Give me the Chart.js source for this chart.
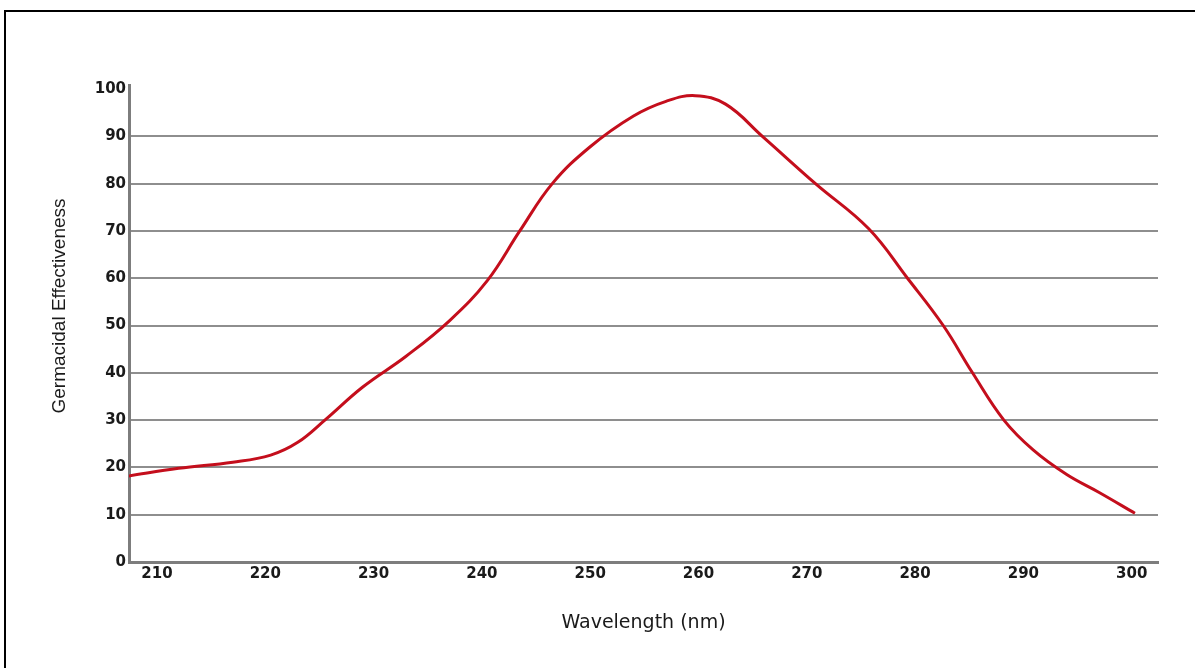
<!DOCTYPE html>
<html>
<head>
<meta charset="utf-8">
<script src="https://cdn.jsdelivr.net/npm/chart.js@4"></script>
<style>
  html, body { margin: 0; padding: 0; background: #fff; }
  #wrap { position: relative; width: 1195px; height: 668px; overflow: hidden; }
  #frame { position: absolute; left: 4px; top: 10px; width: 1300px; height: 700px;
           border-top: 2px solid #000; border-left: 2px solid #000; pointer-events: none; }
  canvas { position: absolute; left: 0; top: 0; }
</style>
</head>
<body>
<div id="wrap">
  <canvas id="c" width="1195" height="668"></canvas>
  <div id="frame"></div>
</div>
<script>
// Data
const wavelengths   = [207.4, 212, 217, 220.5, 223, 225.5, 229, 233, 237, 240.5, 243.5, 246.5, 250, 254, 257, 259.7, 262.5, 265.9, 270.8, 275.7, 279.3, 282.6, 285.3, 288.2, 290.9, 294, 297, 300.3];
const effectiveness = [18.2, 19.8, 21.1, 22.6, 25.3, 30, 37, 43.5, 51, 59.5, 70, 80, 87.8, 94.3, 97.4, 98.6, 96.8, 90, 80, 70.5, 60, 50, 40, 30, 23.7, 18.5, 14.7, 10.3];
const xTicks = [210, 220, 230, 240, 250, 260, 270, 280, 290, 300];
const yTicks = [0, 10, 20, 30, 40, 50, 60, 70, 80, 90, 100];
const xTitle = 'Wavelength (nm)';
const yTitle = 'Germacidal Effectiveness';

const points = wavelengths.map((w, i) => ({ x: w, y: effectiveness[i] }));

const yTitlePlugin = {
  id: 'yTitle',
  afterDraw(chart) {
    const ctx = chart.ctx;
    ctx.save();
    ctx.translate(60, 306);
    ctx.rotate(-Math.PI / 2);
    ctx.font = '19px "Liberation Sans", Arial, sans-serif';
    ctx.fillStyle = '#1a1a1a';
    ctx.textAlign = 'center';
    ctx.textBaseline = 'middle';
    ctx.fillText(yTitle, 0, 0);
    ctx.restore();
  }
};

new Chart(document.getElementById('c'), {
  type: 'line',
  data: {
    datasets: [{
      data: points,
      borderColor: '#c40e1c',
      borderWidth: 3,
      pointRadius: 0,
      fill: false,
      tension: 0.4
    }]
  },
  options: {
    responsive: false,
    animation: false,
    events: [],
    layout: { padding: { left: 0, top: 85, right: 37, bottom: 0 } },
    plugins: { legend: { display: false }, tooltip: { enabled: false }, title: { display: false } },
    scales: {
      x: {
        type: 'linear',
        min: 207.415,
        max: 302.43,
        afterBuildTicks: s => { s.ticks = xTicks.map(v => ({ value: v })); },
        afterFit: s => { s.height = 106; },
        grid: { display: false, drawTicks: false },
        border: { display: true, color: '#7d7d7d', width: 3 },
        ticks: {
          padding: 3,
          color: '#1a1a1a',
          font: { family: '"DejaVu Sans", sans-serif', size: 15, weight: 'bold' },
          maxRotation: 0,
          autoSkip: false
        },
        title: {
          display: true,
          text: xTitle,
          color: '#1a1a1a',
          font: { family: '"DejaVu Sans", sans-serif', size: 19 },
          padding: { top: 0, bottom: 34 }
        }
      },
      y: {
        type: 'linear',
        min: 0,
        max: 100.85,
        afterBuildTicks: s => { s.ticks = yTicks.map(v => ({ value: v })); },
        afterFit: s => { s.width = 129; },
        grid: {
          drawTicks: false,
          lineWidth: 2,
          color: c => (c.tick && (c.tick.value === 0 || c.tick.value === 100)) ? 'rgba(0,0,0,0)' : '#8e8e8e'
        },
        border: { display: true, color: '#7d7d7d', width: 3 },
        ticks: {
          padding: 3,
          color: '#1a1a1a',
          font: { family: '"DejaVu Sans", sans-serif', size: 15, weight: 'bold' }
        }
      }
    }
  },
  plugins: [yTitlePlugin]
});
</script>
</body>
</html>
